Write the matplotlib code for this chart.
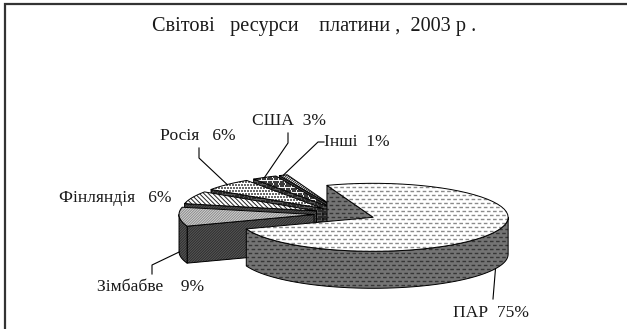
import numpy as np
import matplotlib
matplotlib.use("Agg")
import matplotlib.pyplot as plt
from matplotlib.patches import Polygon
from matplotlib.collections import LineCollection

plt.rcParams['font.family'] = ['Liberation Serif', 'DejaVu Serif']
plt.rcParams['lines.scale_dashes'] = False

# ---- data -------------------------------------------------------------
countries = ['ПАР', 'Зімбабве', 'Фінляндія', 'Росія', 'США', 'Інші']
shares = [75, 9, 6, 6, 3, 1]
title = 'Світові   ресурси    платини ,  2003 р .'

# ---- geometry of the 3-D pie (pixel space, y grows downwards) --------
W, H_FIG = 627, 329
CENTER = (345.0, 214.0)   # centre of the un-exploded pie
A, B = 135.0, 34.0        # semi-axes of the top ellipse
DEPTH = 37.0              # thickness of the pie
EXPLODE = 0.23            # explosion, fraction of radius
START = 110.0             # angle where the first slice begins (clockwise order)

styles = {
    'ПАР':       dict(top='white',   ttex=('hd', '#8a8a8a', 4.0),
                      side='#747474', stex=('hd', '#363636', 4.0)),
    'Зімбабве':  dict(top='#d6d6d6', ttex=('sl', '#8a8a8a', 2.6),
                      side='#5a5a5a', stex=('sl', '#2e2e2e', 2.6)),
    'Фінляндія': dict(top='white',   ttex=('bs', '#222222', 4.5),
                      side='#555555', stex=('sl', '#2a2a2a', 2.6)),
    'Росія':     dict(top='white',   ttex=('dot', '#6a6a6a', 3.0),
                      side='#555555', stex=('dot', '#2a2a2a', 2.6)),
    'США':       dict(top='#f2f2f2', ttex=('dot', '#3a3a3a', 2.4),
                      side='#555555', stex=('dot', '#2a2a2a', 2.6)),
    'Інші':      dict(top='white',   ttex=('sl', '#222222', 2.6),
                      side='#555555', stex=('sl', '#2a2a2a', 2.6)),
}

fig = plt.figure(figsize=(W / 100, H_FIG / 100), dpi=100)
ax = fig.add_axes([0, 0, 1, 1])
ax.set_xlim(0, W)
ax.set_ylim(H_FIG, 0)
ax.axis('off')

zc = [10]


def next_z():
    zc[0] += 1
    return zc[0]


def pt(c, th, dz=0.0):
    t = np.radians(th)
    return (c[0] + A * np.cos(t), c[1] - B * np.sin(t) + dz)


def arc(c, a0, a1, dz=0.0, n=60):
    return [pt(c, t, dz) for t in np.linspace(a0, a1, n)]


def texture(patch, xy, tex, z):
    kind, color, sp = tex
    xy = np.asarray(xy)
    x0, y0 = xy.min(axis=0) - 4
    x1, y1 = xy.max(axis=0) + 4
    if kind == 'hd':
        segs = [[(x0 + (i % 2) * 2.5, y), (x1, y)]
                for i, y in enumerate(np.arange(y0, y1, sp))]
        lc = LineCollection(segs, colors=color, linewidths=1.0,
                            linestyles=[(0, (2.6, 1.8))], zorder=z)
    elif kind in ('sl', 'bs'):
        span = (x1 - x0) + (y1 - y0)
        segs = []
        for k in np.arange(-span, span, sp):
            if kind == 'sl':
                segs.append([(x0 + k, y1), (x0 + k + span, y1 - span)])
            else:
                segs.append([(x0 + k, y0), (x0 + k + span, y0 + span)])
        lc = LineCollection(segs, colors=color, linewidths=0.7, zorder=z)
    else:  # dots
        gx, gy = np.meshgrid(np.arange(x0, x1, sp), np.arange(y0, y1, sp))
        gx = gx + (np.arange(gx.shape[0])[:, None] % 2) * sp / 2
        pts = ax.scatter(gx.ravel(), gy.ravel(), s=0.6, c=color,
                         linewidths=0, marker='s', zorder=z)
        pts.set_clip_path(patch)
        return
    ax.add_collection(lc)
    lc.set_clip_path(patch)


def face(xy, fc, tex):
    z = next_z()
    p = Polygon(xy, closed=True, facecolor=fc, edgecolor='none', zorder=z)
    ax.add_patch(p)
    texture(p, xy, tex, z)
    ax.add_patch(Polygon(xy, closed=True, facecolor='none', edgecolor='black',
                         linewidth=0.7, joinstyle='round', zorder=z))


# slice angles (counter-clockwise bounds), laid out clockwise from START
slices = []
cum = 0.0
for name, v in zip(countries, shares):
    hi = START - cum * 3.6
    lo = hi - v * 3.6
    if lo < -180:
        lo += 360
        hi += 360
    mid = (lo + hi) / 2
    m = np.radians(mid)
    c = (CENTER[0] + EXPLODE * A * np.cos(m), CENTER[1] - EXPLODE * B * np.sin(m))
    slices.append(dict(name=name, value=v, lo=lo, hi=hi, mid=mid, c=c))
    cum += v


def draw_slice(s):
    st = styles[s['name']]
    c, lo, hi = s['c'], s['lo'], s['hi']
    # radial walls facing the viewer
    for t, vis in ((hi, np.cos(np.radians(hi)) < 0),
                   (lo, np.cos(np.radians(lo)) > 0)):
        if vis:
            wall = [c, pt(c, t), pt(c, t, DEPTH), (c[0], c[1] + DEPTH)]
            face(wall, st['side'], st['stex'])
    # front part of the curved rim
    for f0, f1 in ((-180, 0), (180, 360)):
        a0, a1 = max(lo, f0), min(hi, f1)
        if a1 > a0:
            rim = arc(c, a0, a1) + arc(c, a1, a0, DEPTH)
            face(rim, st['side'], st['stex'])
    # top face
    top = [c] + arc(c, lo, hi)
    face(top, st['top'], st['ttex'])


# paint from the back of the pie towards the front
for s in reversed(slices[1:]):
    draw_slice(s)
draw_slice(slices[0])

# ---- labels with leader lines ---------------------------------------
by_name = {s['name']: s for s in slices}
labels = {
    'ПАР':       dict(xy=(453, 313), path=[(493, 299)], rim='bottom'),
    'Зімбабве':  dict(xy=(97, 287), path=[(152, 274), (152, 265)], rim='side'),
    'Фінляндія': dict(xy=(59, 198), path=None, rim=None),
    'Росія':     dict(xy=(160, 136), path=[(199, 148), (199, 158)], rim='top'),
    'США':       dict(xy=(252, 121), path=[(288, 133), (288, 143)], rim='top'),
    'Інші':      dict(xy=(324, 142), path=[(324, 142), (318, 142)], rim='top'),
}
spacing = {'ПАР': '  ', 'Зімбабве': '    ', 'Фінляндія': '   ',
           'Росія': '   ', 'США': '  ', 'Інші': '  '}

for name, lab in labels.items():
    s = by_name[name]
    ax.text(lab['xy'][0], lab['xy'][1], f"{name}{spacing[name]}{s['value']}%",
            fontsize=12.6, ha='left', va='center', color='#1a1a1a', zorder=200)
    if lab['path']:
        dz = {'top': 0.0, 'side': 0.95 * DEPTH, 'bottom': DEPTH}[lab['rim']]
        anchor = pt(s['c'], s['mid'], dz)
        pts_ = lab['path'] + [anchor]
        ax.plot([p[0] for p in pts_], [p[1] for p in pts_], color='black',
                linewidth=0.8, zorder=150)

ax.text(W / 2 + 1, 27, title, fontsize=14.6, ha='center', va='center',
        color='#1a1a1a', zorder=200)

# frame
ax.plot([5, 5, W], [H_FIG, 4, 4], color='#333333', linewidth=1.6,
        solid_joinstyle='miter', zorder=300)

fig.savefig('out.png', dpi=100)
